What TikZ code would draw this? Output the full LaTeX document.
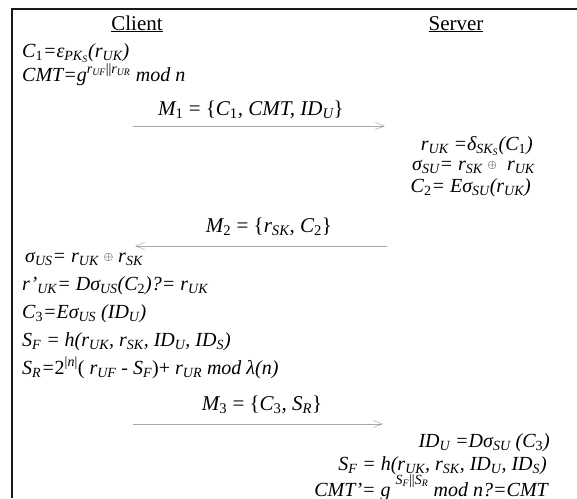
\documentclass[tikz,border=0pt]{standalone}
\usepackage{fontspec}
\setmainfont{Liberation Serif}
\usetikzlibrary{arrows.meta}
\newcommand{\sbx}[1]{\textsubscript{#1}}
\newcommand{\spx}[1]{\textsuperscript{#1}}
\newcommand{\up}[1]{\textup{#1}}
\newcommand{\xorop}{\raisebox{1.5pt}{\fontsize{13}{13}\selectfont$\oplus$}}
\tikzset{
  txt/.style={inner sep=0pt, font=\fontsize{20}{22}\selectfont\itshape},
  lineC/.style={txt, anchor=base west},
  lineS/.style={txt, anchor=base east},
  msglabel/.style={inner sep=0pt, anchor=base, font=\fontsize{21}{22}\selectfont\itshape},
  head/.style={inner sep=0pt, anchor=base, font=\fontsize{21}{22}\selectfont},
  msg/.style={draw=black!35, line width=0.8pt, -{Straight Barb[length=9pt,width=7pt,line width=0.5pt]}},
  frame/.style={draw=black!90, line width=2pt}
}
\begin{document}
\begin{tikzpicture}[x=1pt,y=-1pt]
\useasboundingbox (0,0) rectangle (577,498);
% frame
\coordinate (fb) at (12,498);
\coordinate (fc) at (12,9);
\coordinate (fr) at (577,9);
\draw[frame] (fb) -- (fc) -- (fr);
% headers
\node[head] (client) at (137,30) {\underline{Client}};
\node[head] (server) at (456,30) {\underline{Server}};
% client block 1
\node[lineC] (c1) at (22,57) {C\sbx{\up{1}}=ε\sbx{PK\sbx{S}}(r\sbx{UK})};
\node[lineC] (cmt) at (22,81) {CMT=g\spx{r\sbx{UF}\up{||}r\sbx{UR}} mod n};
% M1
\node[msglabel] (m1) at (251,115) {M\sbx{\up{1}} \up{= \{}C\sbx{\up{1}}, CMT, ID\sbx{U}\up{\}}};
\coordinate (m1s) at (133,126);
\coordinate (m1e) at (385,126);
\draw[msg] (m1s) -- (m1e);
% server block 1
\node[lineS] (ruk) at (533,150) {r\sbx{UK} =δ\sbx{SK\sbx{S}}(C\sbx{\up{1}})};
\node[lineS] (ssu) at (535,170) {σ\sbx{SU}= r\sbx{SK} \xorop\ \ r\sbx{UK}};
\node[lineS] (c2) at (531,192) {C\sbx{\up{2}}= Eσ\sbx{SU}(r\sbx{UK})};
% M2
\node[msglabel] (m2) at (269,232) {M\sbx{\up{2}} \up{= \{}r\sbx{SK}, C\sbx{\up{2}}\up{\}}};
\coordinate (m2s) at (387,246);
\coordinate (m2e) at (135,246);
\draw[msg] (m2s) -- (m2e);
% client block 2
\node[lineC] (sus) at (25,262) {σ\sbx{US}= r\sbx{UK} \xorop\ r\sbx{SK}};
\node[lineC] (rp) at (22,290) {r’\sbx{UK}= Dσ\sbx{US}(C\sbx{\up{2}})?= r\sbx{UK}};
\node[lineC] (c3) at (22,318) {C\sbx{\up{3}}=Eσ\sbx{US} (ID\sbx{U})};
\node[lineC] (sf) at (22,346) {S\sbx{F} = h(r\sbx{UK}, r\sbx{SK}, ID\sbx{U}, ID\sbx{S})};
\node[lineC] (sr) at (22,374) {S\sbx{R}=\up{2}\spx{\up{|}n\up{|}}\up{(} r\sbx{UF} - S\sbx{F}\up{)+} r\sbx{UR} mod λ(n)};
% M3
\node[msglabel] (m3) at (262,410) {M\sbx{\up{3}} \up{= \{}C\sbx{\up{3}}, S\sbx{R}\up{\}}};
\coordinate (m3s) at (133,424);
\coordinate (m3e) at (383,424);
\draw[msg] (m3s) -- (m3e);
% server block 2
\node[lineS] (idu) at (550,447) {ID\sbx{U} =Dσ\sbx{SU} (C\sbx{\up{3}})};
\node[lineS] (sf2) at (547,470) {S\sbx{F} = h(r\sbx{UK}, r\sbx{SK}, ID\sbx{U}, ID\sbx{S})};
\node[lineS] (cmtp) at (548,496) {CMT’= g\ \raisebox{4pt}{\spx{S\sbx{F}\up{||}S\sbx{R}}} mod n?=CMT};
\end{tikzpicture}
\end{document}
